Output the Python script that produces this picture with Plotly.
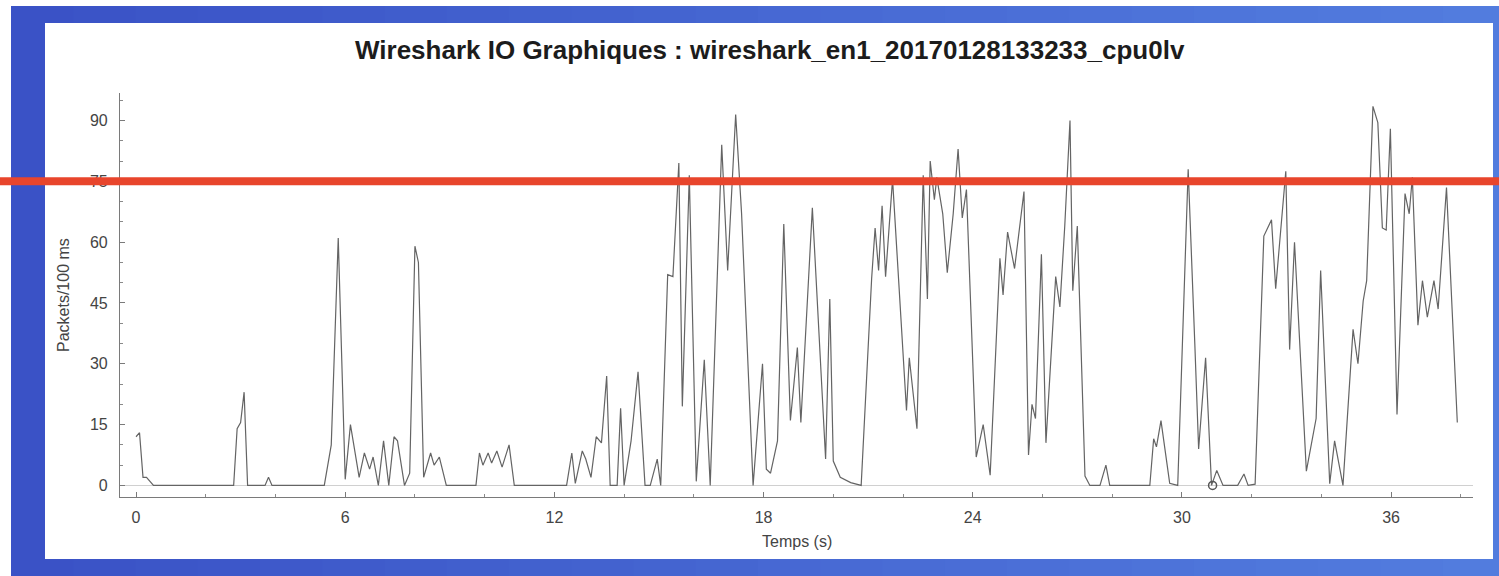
import plotly.graph_objects as go

# ---------------- data ----------------
time_s = [
    0.0, 0.1, 0.2, 0.3, 0.4, 0.5,
    2.8, 2.9, 3.0, 3.1, 3.2,
    3.7, 3.8, 3.9,
    5.4, 5.6, 5.8, 6.0, 6.15, 6.4, 6.55, 6.7, 6.8, 6.95, 7.1, 7.25, 7.4, 7.5,
    7.7, 7.85, 8.0, 8.1, 8.25, 8.45, 8.55, 8.7, 8.9,
    9.75, 9.85, 9.95, 10.1, 10.2, 10.35, 10.5, 10.7, 10.85,
    12.35, 12.5, 12.6, 12.8, 12.9, 13.05, 13.2, 13.35, 13.5, 13.6, 13.8, 13.9,
    14.0, 14.2, 14.4, 14.6, 14.75, 14.95, 15.05, 15.25, 15.4, 15.57, 15.67,
    15.87, 16.07, 16.3, 16.47, 16.8, 16.97, 17.2, 17.37, 17.7, 17.97, 18.08,
    18.2, 18.4, 18.58, 18.77, 18.97, 19.07, 19.4, 19.78, 19.9, 20.0, 20.2,
    20.5, 20.8, 21.1, 21.2, 21.3, 21.4, 21.5, 21.7, 22.1, 22.18, 22.4, 22.58,
    22.7, 22.78, 22.9, 22.97, 23.14, 23.27, 23.44, 23.58, 23.7, 23.82, 24.1,
    24.3, 24.5, 24.78, 24.87, 25.0, 25.2, 25.47, 25.6, 25.7, 25.8, 25.97,
    26.1, 26.38, 26.5, 26.64, 26.79, 26.87, 27.0, 27.22, 27.36, 27.65, 27.82,
    27.93, 29.08, 29.19, 29.27, 29.4, 29.65, 29.88, 30.18, 30.37, 30.48,
    30.68, 30.85, 31.0, 31.18, 31.6, 31.78, 31.9, 32.1, 32.35, 32.57, 32.69,
    32.98, 33.09, 33.23, 33.57, 33.85, 33.98, 34.24, 34.38, 34.62, 34.91,
    35.05, 35.2, 35.3, 35.48, 35.62, 35.75, 35.86, 35.98, 36.17, 36.4, 36.52,
    36.61, 36.77, 36.9, 37.04, 37.23, 37.35, 37.59, 37.9,
]
packets = [
    12, 13, 2, 2, 1, 0,
    0, 14, 15.5, 23, 0,
    0, 2, 0,
    0, 10, 61, 1.5, 15, 2, 8, 4, 7, 0, 11, 0, 12, 11,
    0, 3, 59, 55, 2, 8, 5, 7, 0,
    0, 8, 5, 8, 5.5, 8.5, 4.5, 10, 0,
    0, 8, 0.5, 8.5, 6.5, 2, 12, 10.5, 27, 0, 0, 19,
    0, 11, 28, 0, 0, 6.5, 0, 52, 51.5, 79.5, 19.5,
    76.5, 1, 31, 0, 84, 53, 91.5, 67, 0, 30, 4,
    3, 11, 64.5, 16, 34, 15.5, 68.5, 6.5, 46, 6, 2,
    0.7, 0, 51, 63.5, 53, 69, 51.5, 75.5, 18.5, 31.5, 14, 76.5,
    46, 80, 70.5, 76, 67, 52.5, 67, 83, 66, 73, 7,
    15, 2.5, 56, 47, 62.5, 53.5, 72.5, 7.5, 20, 16.5, 57,
    10.5, 51.5, 44, 64, 90, 48, 64, 2.3, 0, 0, 5,
    0, 0, 11.5, 9.5, 16, 0.5, 0, 78, 35, 9,
    31.5, 0, 3.7, 0, 0, 2.8, 0, 0.3, 61.5, 65.5, 48.5,
    77.5, 33.5, 60, 3.5, 16.5, 53, 0.4, 11, 0, 38.5,
    30, 45.5, 50.5, 93.5, 89.5, 63.5, 63, 88, 17.5, 72, 67,
    76, 39.5, 50.5, 41.5, 50.5, 43.5, 73.5, 15.5,
]
marker_time = [30.88]
marker_packets = [0]
threshold = 75
title_text = "Wireshark IO Graphiques : wireshark_en1_20170128133233_cpu0lv"
x_title = "Temps (s)"
y_title = "Packets/100 ms"

# ---------------- layout geometry ----------------
W, H = 1499, 576
ML, MR, MT, MB = 120, 26, 93, 79
PW, PH = W - ML - MR, H - MT - MB


def px(p):
    return (p - ML) / PW


def py(p):
    return (H - MB - p) / PH


fig = go.Figure()
fig.add_trace(go.Scatter(
    x=time_s, y=packets, mode="lines",
    line=dict(color="#646464", width=1.2),
    showlegend=False, hoverinfo="x+y",
))
fig.add_trace(go.Scatter(
    x=marker_time, y=marker_packets, mode="markers",
    marker=dict(symbol="circle-open", size=8, color="#555555",
                line=dict(width=1.5, color="#555555")),
    showlegend=False,
))

# blue frame: thin vertical strips to mimic the left-to-right gradient
c_left, c_right = (58, 82, 198), (82, 124, 222)
n_strips = 24
x_start, x_end = 11, 1505
shapes = []
for i in range(n_strips):
    f = i / (n_strips - 1)
    col = tuple(round(a + (b - a) * f) for a, b in zip(c_left, c_right))
    xa = x_start + (x_end - x_start) * i / n_strips
    xb = x_start + (x_end - x_start) * (i + 1) / n_strips + 1
    shapes.append(dict(type="rect", xref="paper", yref="paper", layer="below",
                       x0=px(xa), x1=px(xb), y0=py(582), y1=py(6),
                       fillcolor="rgb(%d,%d,%d)" % col, line=dict(width=0)))
shapes += [
    # white panel
    dict(type="rect", xref="paper", yref="paper", layer="below",
         x0=px(45), x1=px(1493), y0=py(559), y1=py(23),
         fillcolor="#ffffff", line=dict(width=0)),
    # red threshold line across the whole picture
    dict(type="line", xref="paper", yref="y", layer="above",
         x0=px(0), x1=px(1505), y0=threshold, y1=threshold,
         line=dict(color="#e8452c", width=8)),
]

annotations = [
    dict(text="<b>" + title_text + "</b>", xref="paper", yref="paper",
         x=px(770), y=py(50), xanchor="center", yanchor="middle",
         showarrow=False, font=dict(family="Liberation Sans", size=26, color="#1c1c1c")),
    dict(text=y_title, xref="paper", yref="paper", x=px(63), y=py(295),
         xanchor="center", yanchor="middle", textangle=-90, showarrow=False,
         font=dict(family="Liberation Sans", size=16, color="#444444")),
    dict(text=x_title, xref="paper", yref="paper", x=px(797), y=py(541),
         xanchor="center", yanchor="middle", showarrow=False,
         font=dict(family="Liberation Sans", size=16, color="#444444")),
]

fig.update_layout(
    width=W, height=H,
    margin=dict(l=ML, r=MR, t=MT, b=MB, pad=0),
    paper_bgcolor="#ffffff", plot_bgcolor="rgba(0,0,0,0)",
    shapes=shapes, annotations=annotations,
    showlegend=False,
)
fig.update_xaxes(
    range=[-0.46, 38.35], tick0=0, dtick=6,
    showgrid=False, zeroline=False,
    showline=True, linecolor="#7a7a7a", linewidth=1.2,
    ticks="inside", ticklen=5, tickcolor="#7a7a7a",
    minor=dict(dtick=2, ticks="inside", ticklen=3, tickcolor="#8a8a8a"),
    ticklabelstandoff=6,
    tickfont=dict(family="Liberation Sans", size=16, color="#444444"),
)
fig.update_yaxes(
    range=[-2.86, 96.8], tick0=0, dtick=15,
    showgrid=False, zeroline=True, zerolinecolor="#d0d0d0", zerolinewidth=1,
    showline=True, linecolor="#7a7a7a", linewidth=1.2,
    ticks="inside", ticklen=5, tickcolor="#7a7a7a",
    minor=dict(dtick=5, ticks="inside", ticklen=3, tickcolor="#8a8a8a"),
    ticklabelstandoff=8,
    tickfont=dict(family="Liberation Sans", size=16, color="#444444"),
)

fig.write_html("out.html", config={"displayModeBar": False},
               post_script="document.body.style.margin='0';")
